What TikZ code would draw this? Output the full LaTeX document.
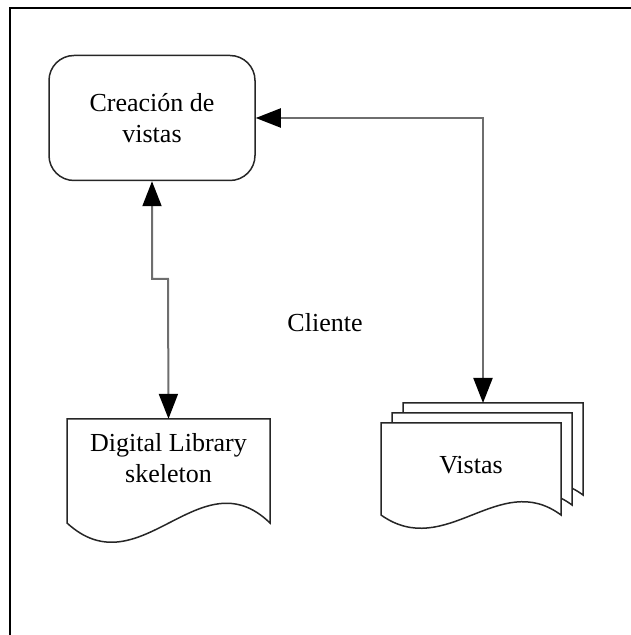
\documentclass[tikz,border=0pt]{standalone}
\usepackage{fontspec}
\setmainfont{Liberation Serif}
\usepackage{tikz}
\usetikzlibrary{arrows.meta,positioning,calc}
\definecolor{linegray}{HTML}{6E6E6E}

\begin{document}
\begin{tikzpicture}[x=1pt,y=1pt,
  every node/.style={font=\fontsize{26}{31}\selectfont},
  procbox/.style={draw=black!85,line width=1.5pt,rounded corners=25pt,
    minimum width=206pt,minimum height=125pt,align=center},
  docpart/.style={inner sep=0pt,align=center},
  docshape/.style={draw=black!85,line width=1.5pt,fill=white},
  link/.style={linegray,line width=2pt,
    {Triangle[length=25pt,width=19pt,color=black]}-{Triangle[length=25pt,width=19pt,color=black]}}]
  \useasboundingbox (0,0) rectangle (631,635);
  % Frame
  \draw[line width=2pt] (10,0) -- (10,627) -- (631,627);
  % Process box
  \node[procbox] (creacion) at (152,517) {Creaci\'on de\\vistas};
  % Skeleton document
  \draw[docshape] (67,216) -- (270,216) -- (270,112)
    .. controls (200,180) and (140,45) .. (67,112) -- cycle;
  \node[docpart,minimum width=203pt,minimum height=78pt] (skel) at (168.5,177)
    {Digital Library\\skeleton};
  % Stacked views
  \foreach \dx/\dy in {22/20,11/10,0/0}
    \draw[docshape,shift={(\dx,\dy)}] (381,212) -- (561,212) -- (561,120)
      .. controls (499,166) and (446,74) .. (381,120) -- cycle;
  \node[docpart] (vistas) at (471,170) {Vistas};
  \coordinate (vtop) at (483,232);
  % Label
  \node (cliente) at (325,312) {Cliente};
  % Connectors
  \coordinate (jog) at (168,356);
  \draw[link] (creacion.south) |- (jog) -- (skel.north);
  \draw[link] (creacion.east) -| (vtop);
\end{tikzpicture}
\end{document}
